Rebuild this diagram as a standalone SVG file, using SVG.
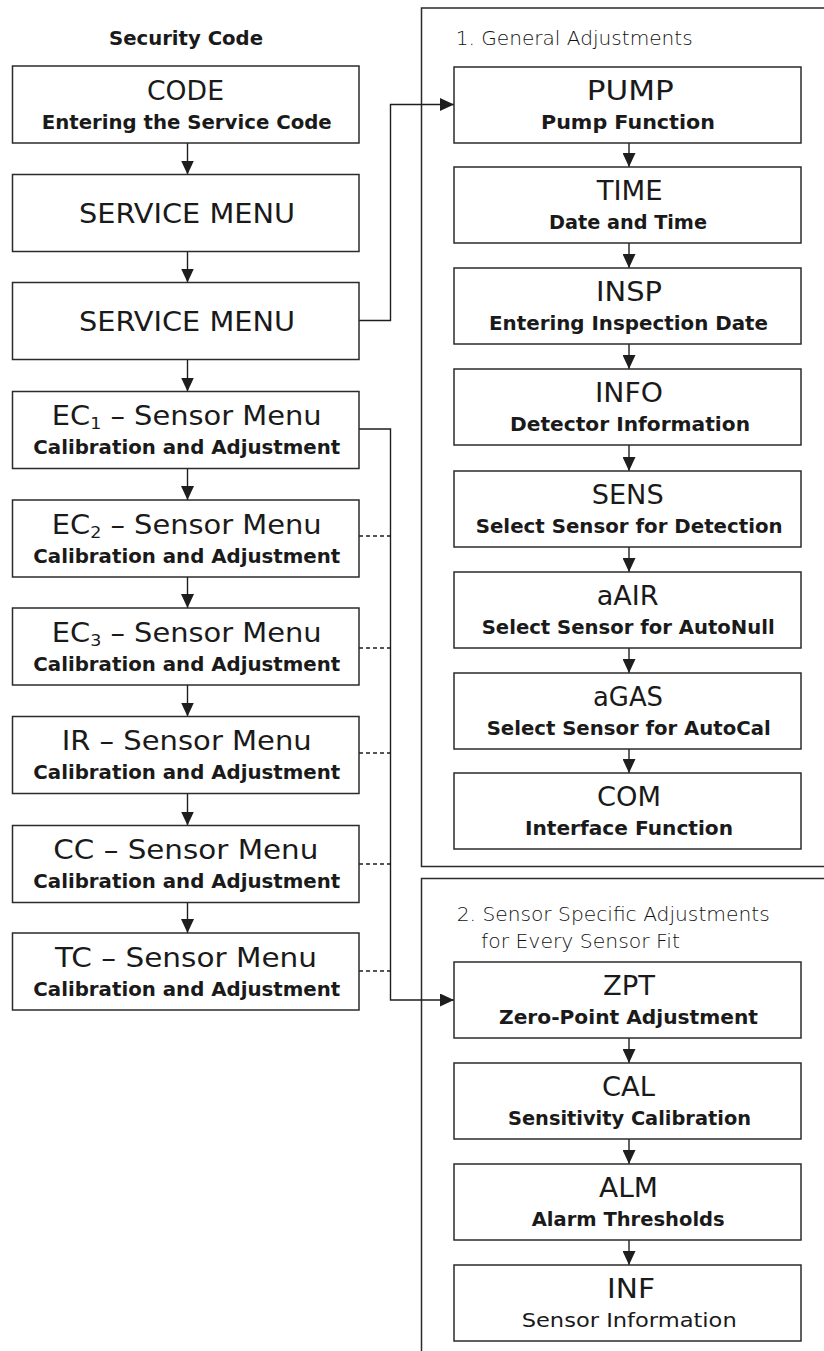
<svg xmlns="http://www.w3.org/2000/svg" width="824" height="1351" viewBox="0 0 824 1351">
<style>
.bg{fill:#fff}
.box{fill:#fff;stroke:#2b2b2b;stroke-width:1.5}
.panel{fill:none;stroke:#2b2b2b;stroke-width:1.5}
.t{font-family:"DejaVu Sans","Liberation Sans",sans-serif;font-size:26.5px;fill:#1a1a1a}
.s{font-family:"DejaVu Sans","Liberation Sans",sans-serif;font-size:20px;font-weight:bold;fill:#1a1a1a}
.sn{font-family:"DejaVu Sans","Liberation Sans",sans-serif;font-size:20px;fill:#1a1a1a}
.h{font-family:"DejaVu Sans","Liberation Sans",sans-serif;font-size:20px;font-weight:200;fill:#111}
.sub{font-size:16px}
.ln{fill:none;stroke:#1e1e1e;stroke-width:1.4}
.dash{fill:none;stroke:#1e1e1e;stroke-width:1.5;stroke-dasharray:4,3}
</style>
<defs>
<marker id="ah" viewBox="0 0 14 13" refX="14" refY="6.5" orient="auto" markerUnits="userSpaceOnUse" markerWidth="14" markerHeight="13">
<path d="M0,0 L14,6.5 L0,13 Z" fill="#1e1e1e"/>
</marker>
</defs>
<rect class="bg" x="0" y="0" width="824" height="1351"/>

<g id="panel-general">
<rect class="panel" x="421.5" y="8" width="410" height="858.5"/>
<text class="h" x="455.7" y="45" textLength="237" lengthAdjust="spacingAndGlyphs">1. General Adjustments</text>
</g>
<g id="panel-sensor">
<rect class="panel" x="421.5" y="878.5" width="410" height="480"/>
<text class="h" x="456.7" y="920.7" textLength="313" lengthAdjust="spacingAndGlyphs">2. Sensor Specific Adjustments</text>
<text class="h" x="481" y="948.3" textLength="199" lengthAdjust="spacingAndGlyphs">for Every Sensor Fit</text>
</g>

<g id="label-security">
<text class="s" x="109" y="45" textLength="154" lengthAdjust="spacingAndGlyphs">Security Code</text>
</g>

<g id="connectors">
<line class="ln" x1="187.5" y1="143" x2="187.5" y2="174.5" marker-end="url(#ah)"/>
<line class="ln" x1="187.5" y1="251.5" x2="187.5" y2="282.5" marker-end="url(#ah)"/>
<line class="ln" x1="187.5" y1="359.5" x2="187.5" y2="391.5" marker-end="url(#ah)"/>
<line class="ln" x1="187.5" y1="468.5" x2="187.5" y2="500" marker-end="url(#ah)"/>
<line class="ln" x1="187.5" y1="577" x2="187.5" y2="608" marker-end="url(#ah)"/>
<line class="ln" x1="187.5" y1="685" x2="187.5" y2="716.5" marker-end="url(#ah)"/>
<line class="ln" x1="187.5" y1="793.5" x2="187.5" y2="825.5" marker-end="url(#ah)"/>
<line class="ln" x1="187.5" y1="902.5" x2="187.5" y2="933" marker-end="url(#ah)"/>

<line class="ln" x1="629" y1="143" x2="629" y2="167" marker-end="url(#ah)"/>
<line class="ln" x1="629" y1="243" x2="629" y2="268" marker-end="url(#ah)"/>
<line class="ln" x1="629" y1="344" x2="629" y2="369" marker-end="url(#ah)"/>
<line class="ln" x1="629" y1="445" x2="629" y2="471" marker-end="url(#ah)"/>
<line class="ln" x1="629" y1="547" x2="629" y2="572" marker-end="url(#ah)"/>
<line class="ln" x1="629" y1="648" x2="629" y2="673" marker-end="url(#ah)"/>
<line class="ln" x1="629" y1="749" x2="629" y2="773" marker-end="url(#ah)"/>

<line class="ln" x1="629" y1="1038" x2="629" y2="1063" marker-end="url(#ah)"/>
<line class="ln" x1="629" y1="1139" x2="629" y2="1164" marker-end="url(#ah)"/>
<line class="ln" x1="629" y1="1240" x2="629" y2="1265" marker-end="url(#ah)"/>

<path class="ln" d="M359,320.5 H390.5 V104.5 H454" marker-end="url(#ah)"/>
<path class="ln" d="M359,429 H390.5 V1000 H454" marker-end="url(#ah)"/>

<path class="dash" d="M359,536 H390.5"/>
<path class="dash" d="M359,648 H390.5"/>
<path class="dash" d="M359,753 H390.5"/>
<path class="dash" d="M359,864 H390.5"/>
<path class="dash" d="M359,971 H390.5"/>
</g>

<g id="node-code">
<rect class="box" x="12.5" y="66" width="346.5" height="77"/>
<text class="t" x="147" y="99.5" textLength="77" lengthAdjust="spacingAndGlyphs">CODE</text>
<text class="s" x="41.7" y="128.5" textLength="290" lengthAdjust="spacingAndGlyphs">Entering the Service Code</text>
</g>
<g id="node-service-menu-1">
<rect class="box" x="12.5" y="174.5" width="346.5" height="77"/>
<text class="t" x="79" y="223" textLength="216" lengthAdjust="spacingAndGlyphs">SERVICE MENU</text>
</g>
<g id="node-service-menu-2">
<rect class="box" x="12.5" y="282.5" width="346.5" height="77"/>
<text class="t" x="79" y="331" textLength="216" lengthAdjust="spacingAndGlyphs">SERVICE MENU</text>
</g>
<g id="node-ec1">
<rect class="box" x="12.5" y="391.5" width="346.5" height="77"/>
<text class="t" x="51.7" y="425" textLength="270" lengthAdjust="spacingAndGlyphs">EC<tspan class="sub" dy="4">1</tspan><tspan dy="-4"> – Sensor Menu</tspan></text>
<text class="s" x="33.3" y="454" textLength="307" lengthAdjust="spacingAndGlyphs">Calibration and Adjustment</text>
</g>
<g id="node-ec2">
<rect class="box" x="12.5" y="500" width="346.5" height="77"/>
<text class="t" x="51.7" y="533.5" textLength="270" lengthAdjust="spacingAndGlyphs">EC<tspan class="sub" dy="4">2</tspan><tspan dy="-4"> – Sensor Menu</tspan></text>
<text class="s" x="33.3" y="562.5" textLength="307" lengthAdjust="spacingAndGlyphs">Calibration and Adjustment</text>
</g>
<g id="node-ec3">
<rect class="box" x="12.5" y="608" width="346.5" height="77"/>
<text class="t" x="51.7" y="641.5" textLength="270" lengthAdjust="spacingAndGlyphs">EC<tspan class="sub" dy="4">3</tspan><tspan dy="-4"> – Sensor Menu</tspan></text>
<text class="s" x="33.3" y="670.5" textLength="307" lengthAdjust="spacingAndGlyphs">Calibration and Adjustment</text>
</g>
<g id="node-ir">
<rect class="box" x="12.5" y="716.5" width="346.5" height="77"/>
<text class="t" x="61.7" y="750" textLength="250" lengthAdjust="spacingAndGlyphs">IR – Sensor Menu</text>
<text class="s" x="33.3" y="779" textLength="307" lengthAdjust="spacingAndGlyphs">Calibration and Adjustment</text>
</g>
<g id="node-cc">
<rect class="box" x="12.5" y="825.5" width="346.5" height="77"/>
<text class="t" x="53.3" y="859" textLength="265" lengthAdjust="spacingAndGlyphs">CC – Sensor Menu</text>
<text class="s" x="33.3" y="888" textLength="307" lengthAdjust="spacingAndGlyphs">Calibration and Adjustment</text>
</g>
<g id="node-tc">
<rect class="box" x="12.5" y="933" width="346.5" height="77"/>
<text class="t" x="55" y="966.5" textLength="262" lengthAdjust="spacingAndGlyphs">TC – Sensor Menu</text>
<text class="s" x="33.3" y="995.5" textLength="307" lengthAdjust="spacingAndGlyphs">Calibration and Adjustment</text>
</g>

<g id="node-pump">
<rect class="box" x="454" y="67" width="347" height="76"/>
<text class="t" x="586.7" y="100" textLength="87" lengthAdjust="spacingAndGlyphs">PUMP</text>
<text class="s" x="541" y="128.5" textLength="174" lengthAdjust="spacingAndGlyphs">Pump Function</text>
</g>
<g id="node-time">
<rect class="box" x="454" y="167" width="347" height="76"/>
<text class="t" x="596.7" y="200" textLength="66" lengthAdjust="spacingAndGlyphs">TIME</text>
<text class="s" x="549" y="228.5" textLength="158" lengthAdjust="spacingAndGlyphs">Date and Time</text>
</g>
<g id="node-insp">
<rect class="box" x="454" y="268" width="347" height="76"/>
<text class="t" x="596" y="301" textLength="66" lengthAdjust="spacingAndGlyphs">INSP</text>
<text class="s" x="489" y="329.5" textLength="279" lengthAdjust="spacingAndGlyphs">Entering Inspection Date</text>
</g>
<g id="node-info">
<rect class="box" x="454" y="369" width="347" height="76"/>
<text class="t" x="595" y="402" textLength="68" lengthAdjust="spacingAndGlyphs">INFO</text>
<text class="s" x="510" y="430.5" textLength="240" lengthAdjust="spacingAndGlyphs">Detector Information</text>
</g>
<g id="node-sens">
<rect class="box" x="454" y="471" width="347" height="76"/>
<text class="t" x="591.7" y="504" textLength="72" lengthAdjust="spacingAndGlyphs">SENS</text>
<text class="s" x="475.7" y="532.5" textLength="307" lengthAdjust="spacingAndGlyphs">Select Sensor for Detection</text>
</g>
<g id="node-aair">
<rect class="box" x="454" y="572" width="347" height="76"/>
<text class="t" x="596.7" y="605" textLength="62" lengthAdjust="spacingAndGlyphs">aAIR</text>
<text class="s" x="481.7" y="633.5" textLength="293" lengthAdjust="spacingAndGlyphs">Select Sensor for AutoNull</text>
</g>
<g id="node-agas">
<rect class="box" x="454" y="673" width="347" height="76"/>
<text class="t" x="593" y="706" textLength="70" lengthAdjust="spacingAndGlyphs">aGAS</text>
<text class="s" x="486.7" y="734.5" textLength="284" lengthAdjust="spacingAndGlyphs">Select Sensor for AutoCal</text>
</g>
<g id="node-com">
<rect class="box" x="454" y="773" width="347" height="76"/>
<text class="t" x="597" y="806" textLength="64" lengthAdjust="spacingAndGlyphs">COM</text>
<text class="s" x="525" y="834.5" textLength="208" lengthAdjust="spacingAndGlyphs">Interface Function</text>
</g>

<g id="node-zpt">
<rect class="box" x="454" y="962" width="347" height="76"/>
<text class="t" x="603" y="995" textLength="52" lengthAdjust="spacingAndGlyphs">ZPT</text>
<text class="s" x="499" y="1023.5" textLength="259" lengthAdjust="spacingAndGlyphs">Zero-Point Adjustment</text>
</g>
<g id="node-cal">
<rect class="box" x="454" y="1063" width="347" height="76"/>
<text class="t" x="602" y="1096" textLength="53" lengthAdjust="spacingAndGlyphs">CAL</text>
<text class="s" x="508" y="1124.5" textLength="243" lengthAdjust="spacingAndGlyphs">Sensitivity Calibration</text>
</g>
<g id="node-alm">
<rect class="box" x="454" y="1164" width="347" height="76"/>
<text class="t" x="599" y="1197" textLength="59" lengthAdjust="spacingAndGlyphs">ALM</text>
<text class="s" x="531.7" y="1225.5" textLength="193" lengthAdjust="spacingAndGlyphs">Alarm Thresholds</text>
</g>
<g id="node-inf">
<rect class="box" x="454" y="1265" width="347" height="76"/>
<text class="t" x="607" y="1298" textLength="48" lengthAdjust="spacingAndGlyphs">INF</text>
<text class="sn" x="521.7" y="1326.5" textLength="215" lengthAdjust="spacingAndGlyphs">Sensor Information</text>
</g>
</svg>
